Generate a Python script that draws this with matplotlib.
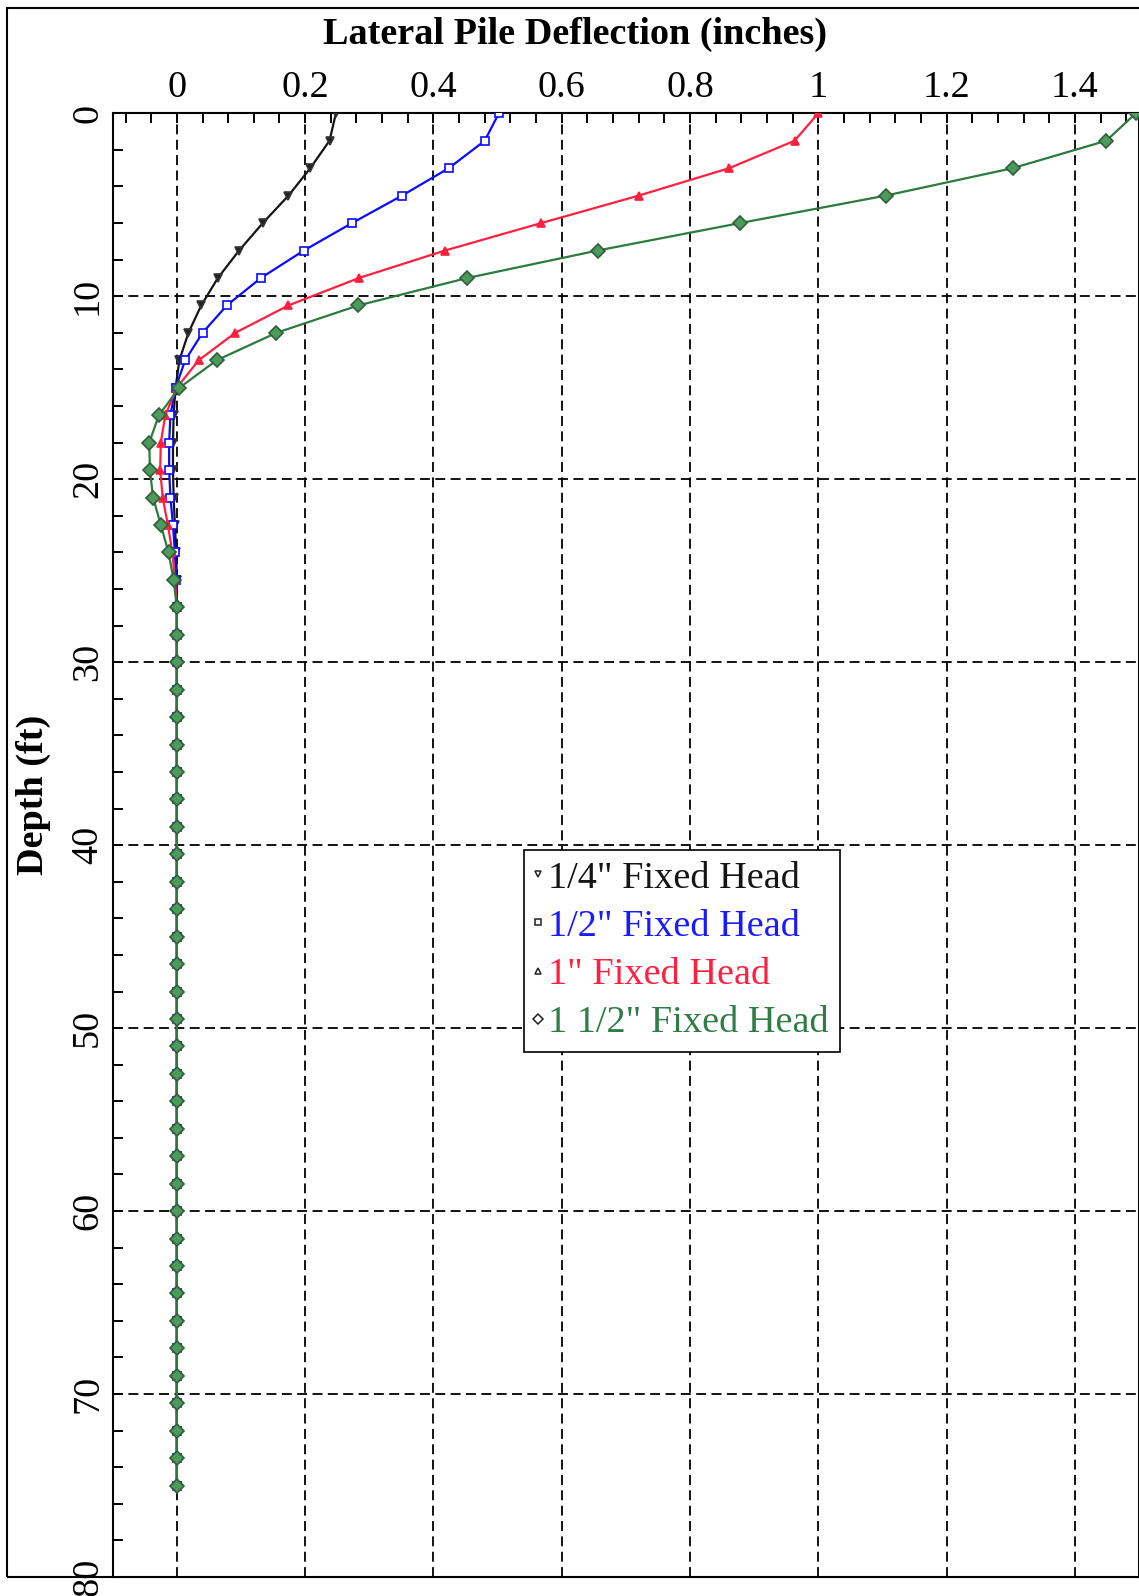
import matplotlib
matplotlib.use("Agg")
import matplotlib.pyplot as plt
from matplotlib.lines import Line2D
from matplotlib.patches import Rectangle
from matplotlib.ticker import MultipleLocator

plt.rcParams['font.family'] = ['Liberation Serif', 'DejaVu Serif']

depth = [0, 1.5, 3, 4.5, 6, 7.5, 9, 10.5, 12, 13.5, 15, 16.5, 18, 19.5, 21, 22.5,
         24, 25.5, 27, 28.5, 30, 31.5, 33, 34.5, 36, 37.5, 39, 40.5, 42, 43.5,
         45, 46.5, 48, 49.5, 51, 52.5, 54, 55.5, 57, 58.5, 60, 61.5, 63, 64.5,
         66, 67.5, 69, 70.5, 72, 73.5, 75]

tail = [0.0] * 33

defl_quarter = [0.248, 0.238, 0.208, 0.174, 0.134, 0.097, 0.064, 0.038, 0.018,
                0.004, -0.002, -0.005, -0.006, -0.006, -0.005, -0.003, -0.001,
                0.000] + tail
defl_half = [0.502, 0.480, 0.424, 0.351, 0.273, 0.198, 0.131, 0.078, 0.040,
             0.013, -0.002, -0.010, -0.012, -0.012, -0.010, -0.006, -0.003,
             -0.001] + tail
defl_one = [1.000, 0.963, 0.861, 0.720, 0.568, 0.418, 0.284, 0.174, 0.091,
            0.034, 0.000, -0.018, -0.025, -0.026, -0.022, -0.014, -0.007,
            -0.003] + tail
defl_onehalf = [1.495, 1.449, 1.303, 1.105, 0.878, 0.656, 0.453, 0.283, 0.155,
                0.062, 0.004, -0.028, -0.043, -0.042, -0.037, -0.025, -0.013,
                -0.005] + tail

labels = ['1/4" Fixed Head', '1/2" Fixed Head', '1" Fixed Head', '1 1/2" Fixed Head']
x_ticks = [0, 0.2, 0.4, 0.6, 0.8, 1.0, 1.2, 1.4]
x_ticklabels = ['0', '0.2', '0.4', '0.6', '0.8', '1', '1.2', '1.4']
y_ticks = [0, 10, 20, 30, 40, 50, 60, 70, 80]

W, H = 1139, 1596
fig = plt.figure(figsize=(W / 100, H / 100), dpi=100)
ax_l, ax_t, ax_b = 112.7, 113.3, 1577
ax = fig.add_axes([ax_l / W, 1 - ax_b / H, 1 - ax_l / W, (ax_b - ax_t) / H])

FS = 27.5
series = [
    (defl_quarter, '#151515', 'v', '#222222', '#333333', 6.0),
    (defl_half, '#0a0aff', 's', 'white', '#0a0aff', 6.0),
    (defl_one, '#ff1f3f', '^', '#ff1f3f', '#ff1f3f', 6.0),
    (defl_onehalf, '#2c7a3e', 'D', '#4c9a5c', '#2f5f3a', 6.8),
]
for vals, col, mk, mfc, mec, ms in series:
    ax.plot(vals, depth, color=col, lw=1.6, marker=mk, ms=ms, mfc=mfc,
            mec=mec, mew=1.2, zorder=3)

ax.set_xlim(-0.1, 1.5)
ax.set_ylim(80, 0)
ax.xaxis.tick_top()
ax.set_xticks(x_ticks)
ax.set_xticklabels(x_ticklabels)
ax.set_yticks(y_ticks)
ax.xaxis.set_minor_locator(MultipleLocator(0.04))
ax.yaxis.set_minor_locator(MultipleLocator(2))
ax.tick_params(axis='both', which='both', direction='in', width=1.4,
               labelsize=FS, colors='black')
ax.tick_params(axis='both', which='major', length=7.5)
ax.tick_params(axis='both', which='minor', length=7.5)
ax.tick_params(axis='x', which='both', top=True, bottom=False, pad=6)
ax.tick_params(axis='y', which='both', left=True, right=False, pad=5.5)
for lab in ax.get_yticklabels():
    lab.set_rotation(90)
    lab.set_va('center')

ax.grid(True, which='major', color='black', lw=1.3, ls=(0, (5.5, 3)))
ax.set_axisbelow(True)
for sp in ax.spines.values():
    sp.set_linewidth(1.5)
    sp.set_color('black')

fig.text(575 / W, 1 - 34 / H, 'Lateral Pile Deflection (inches)', ha='center',
         va='center', fontsize=FS, fontweight='bold')
fig.text(33 / W, 1 - 795 / H, 'Depth (ft)', ha='center', va='center',
         rotation=90, fontsize=FS, fontweight='bold')

fig.add_artist(Rectangle((7 / W, 1 - ax_b / H), 1.2, (ax_b - 8) / H,
                         transform=fig.transFigure, fill=False, lw=1.5,
                         edgecolor='black', clip_on=False, zorder=0))

handles = [Line2D([], [], ls='none', marker=m, ms=5, mfc='white', mec='#222222', mew=1.1)
           for m in ['v', 's', '^', 'D']]
leg = ax.legend(handles, labels, loc='upper left', bbox_to_anchor=(0.401, 0.497),
                borderaxespad=0, fontsize=FS, frameon=True, fancybox=False,
                framealpha=1, edgecolor='black', handlelength=0.1,
                handletextpad=0.23, labelspacing=0.35, borderpad=0.3)
leg.get_frame().set_linewidth(1.2)
for txt, c in zip(leg.get_texts(), ['#151515', '#1a1aff', '#ff2040', '#2e7d46']):
    txt.set_color(c)

fig.savefig('out.png', dpi=100)
